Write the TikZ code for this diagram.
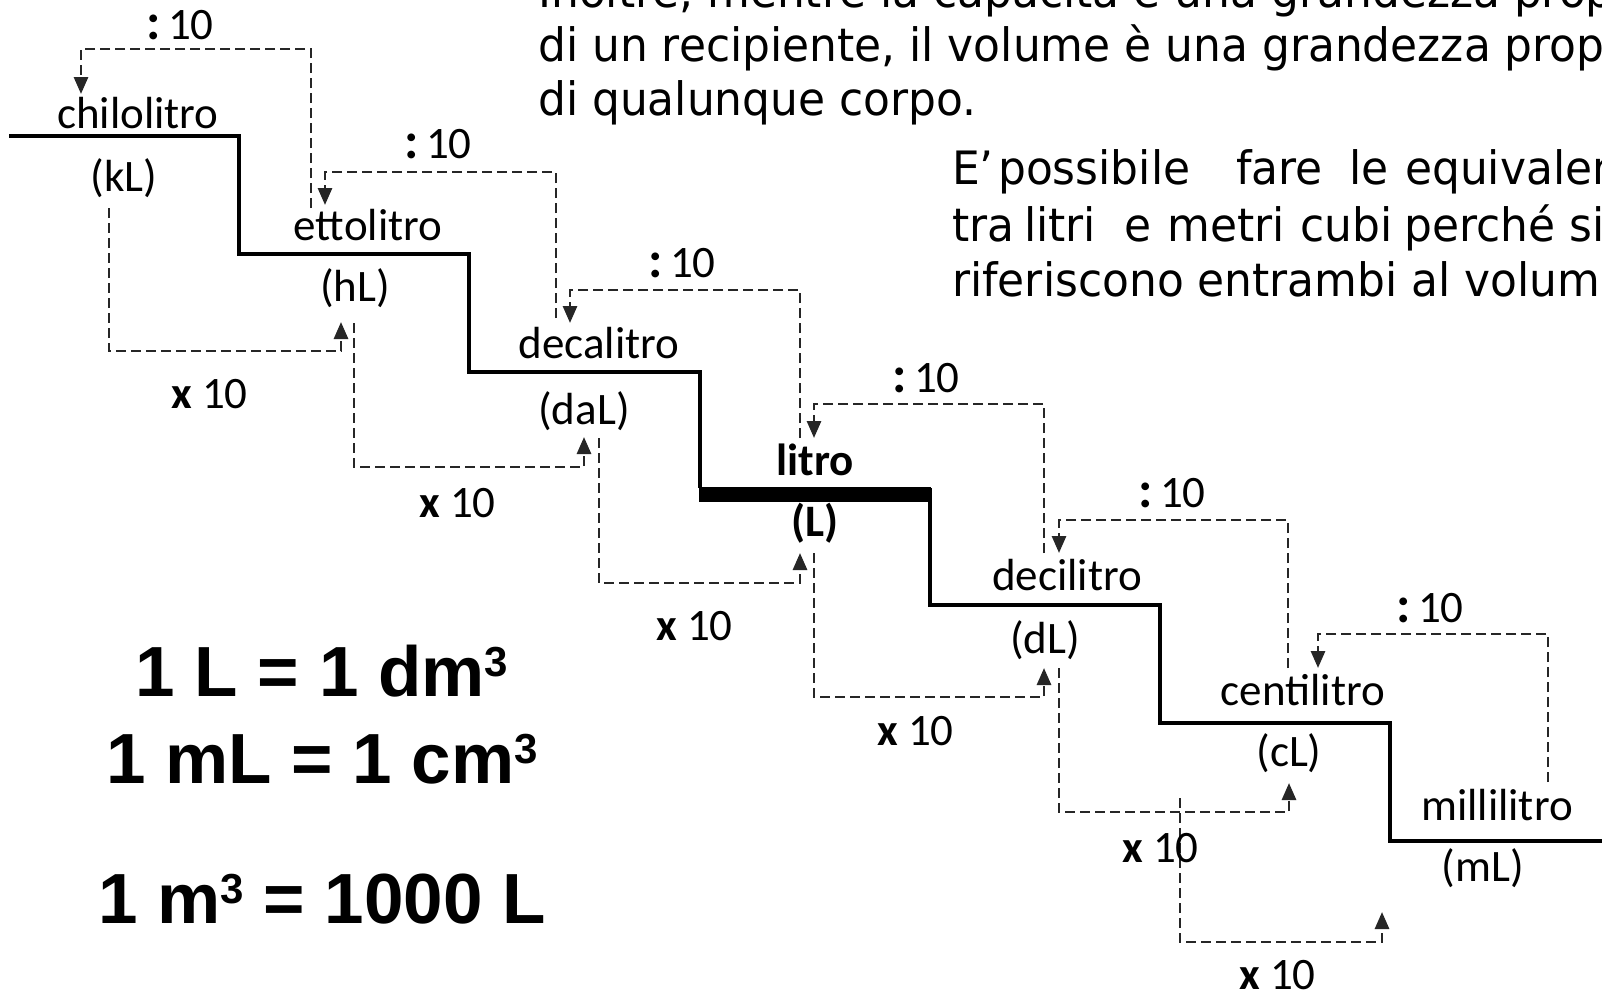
\documentclass[tikz,border=0pt]{standalone}
\usepackage{fontspec}
\setmainfont{Carlito}
\newfontfamily\eqfont{Liberation Sans}
\newfontfamily\parfont{DejaVu Sans}
\usetikzlibrary{arrows.meta}
\newcommand{\ptext}[1]{\scalebox{0.955}[1]{\parfont\fontsize{46}{54}\selectfont #1}}
\newcommand{\cubed}{\raisebox{20pt}{\fontsize{42}{44}\selectfont 3}}
\newcommand{\divsign}{{\bfseries\fontsize{52}{54}\selectfont :}}
\tikzset{
  stairline/.style={line width=3.2pt, line join=miter},
  dasharrow/.style={line width=2.8pt, draw=black!85, dash pattern=on 10pt off 5pt,
    -{Triangle[length=17pt,width=14pt]}},
  unitname/.style={anchor=base, inner sep=0pt, font=\fontsize{45}{54}\selectfont},
  unitabbr/.style={anchor=center, inner sep=0pt, font=\fontsize{45}{54}\selectfont},
  oplabel/.style={anchor=base west, inner sep=0pt, font=\fontsize{45}{54}\selectfont},
  eqlabel/.style={anchor=base, inner sep=0pt, font=\eqfont\bfseries\fontsize{71}{80}\selectfont},
  partext/.style={anchor=base west, inner sep=0pt}
}
\begin{document}
\begin{tikzpicture}[x=1pt,y=-1pt]
\path[use as bounding box] (0,0) rectangle (1602,993);
\clip (0,0) rectangle (1602,993);
\fill[white] (0,0) rectangle (1602,993);

% paragraph text
\node[partext] (p1) at (538,7) {\ptext{Inoltre, mentre la capacità è una grandezza propria}};
\node[partext] (p2) at (538,61) {\ptext{di un recipiente, il volume è una grandezza propria}};
\node[partext] (p3) at (538,115) {\ptext{di qualunque corpo.}};
\node[partext] (q1) at (952,184) {\ptext{E’}};
\node[partext] (q2) at (998,184) {\ptext{possibile}};
\node[partext] (q3) at (1236,184) {\ptext{fare}};
\node[partext] (q4) at (1349,184) {\ptext{le}};
\node[partext] (q5) at (1405,184) {\ptext{equivalenze}};
\node[partext] (r1) at (952,241) {\ptext{tra}};
\node[partext] (r2) at (1024,241) {\ptext{litri}};
\node[partext] (r3) at (1124,241) {\ptext{e}};
\node[partext] (r4) at (1167,241) {\ptext{metri}};
\node[partext] (r5) at (1300,241) {\ptext{cubi}};
\node[partext] (r6) at (1404,241) {\ptext{perché si}};
\node[partext] (s1) at (952,296) {\ptext{riferiscono entrambi al volume.}};

% staircase
\coordinate (st0) at (9,136);
\coordinate (st1) at (239,254);
\coordinate (st2) at (469,372);
\coordinate (st3) at (700,488);
\coordinate (st4) at (930,488);
\coordinate (st5) at (1160,605);
\coordinate (st6) at (1390,723);
\coordinate (st7) at (1602,841);
\draw[stairline] (st0) -| (st1) -| (st2) -| (st3);
\draw[stairline] (st4) |- (st5) |- (st6) |- (st7);
\fill (699,487) rectangle (931,502);

% unit names
\node[unitname] (n1) at (138,128) {chilolitro};
\node[unitname] (n2) at (368,240) {ettolitro};
\node[unitname] (n3) at (599,358) {decalitro};
\node[unitname,font=\bfseries\fontsize{45}{54}\selectfont] (n4) at (815,475) {litro};
\node[unitname] (n5) at (1067,590) {decilitro};
\node[unitname] (n6) at (1303,705) {centilitro};
\node[unitname] (n7) at (1497,820) {millilitro};

\node[unitabbr] (a1) at (124,178) {(kL)};
\node[unitabbr] (a2) at (355,288) {(hL)};
\node[unitabbr] (a3) at (584,411) {(daL)};
\node[unitabbr,font=\bfseries\fontsize{45}{54}\selectfont] (a4) at (815,523) {(L)};
\node[unitabbr] (a5) at (1045,640) {(dL)};
\node[unitabbr] (a6) at (1289,753) {(cL)};
\node[unitabbr] (a7) at (1483,868) {(mL)};

% divide arrows (going up)
\draw[dasharrow] (311,208) |- (81,49) -- (81,94);
\draw[dasharrow] (556,318) |- (325,172) -- (325,205);
\draw[dasharrow] (800,438) |- (570,290) -- (570,323);
\draw[dasharrow] (1044,553) |- (814,404) -- (814,438);
\draw[dasharrow] (1288,668) |- (1059,520) -- (1059,553);
\draw[dasharrow] (1548,782) |- (1318,634) -- (1318,668);

\node[oplabel] (d1) at (146,39) {\divsign\,10};
\node[oplabel] (d2) at (404,158) {\divsign\,10};
\node[oplabel] (d3) at (648,277) {\divsign\,10};
\node[oplabel] (d4) at (892,392) {\divsign\,10};
\node[oplabel] (d5) at (1138,507) {\divsign\,10};
\node[oplabel] (d6) at (1396,622) {\divsign\,10};

% multiply arrows (going down)
\draw[dasharrow] (109,208) |- (341,351) -- (341,322);
\draw[dasharrow] (354,323) |- (584,467) -- (584,437);
\draw[dasharrow] (599,438) |- (800,583) -- (800,553);
\draw[dasharrow] (814,553) |- (1044,697) -- (1044,668);
\draw[dasharrow] (1059,668) |- (1289,812) -- (1289,783);
\draw[dasharrow] (1180,798) |- (1382,942) -- (1382,912);

\node[oplabel] (m1) at (171,408) {{\bfseries x} 10};
\node[oplabel] (m2) at (419,517) {{\bfseries x} 10};
\node[oplabel] (m3) at (656,640) {{\bfseries x} 10};
\node[oplabel] (m4) at (877,745) {{\bfseries x} 10};
\node[oplabel] (m5) at (1122,862) {{\bfseries x} 10};
\node[oplabel] (m6) at (1239,989) {{\bfseries x} 10};

% equations
\node[eqlabel] (e1) at (322,696) {1 L = 1 dm\cubed};
\node[eqlabel] (e2) at (322,783) {1 mL = 1 cm\cubed};
\node[eqlabel] (e3) at (322,923) {1 m\cubed{} = 1000 L};
\end{tikzpicture}
\end{document}
